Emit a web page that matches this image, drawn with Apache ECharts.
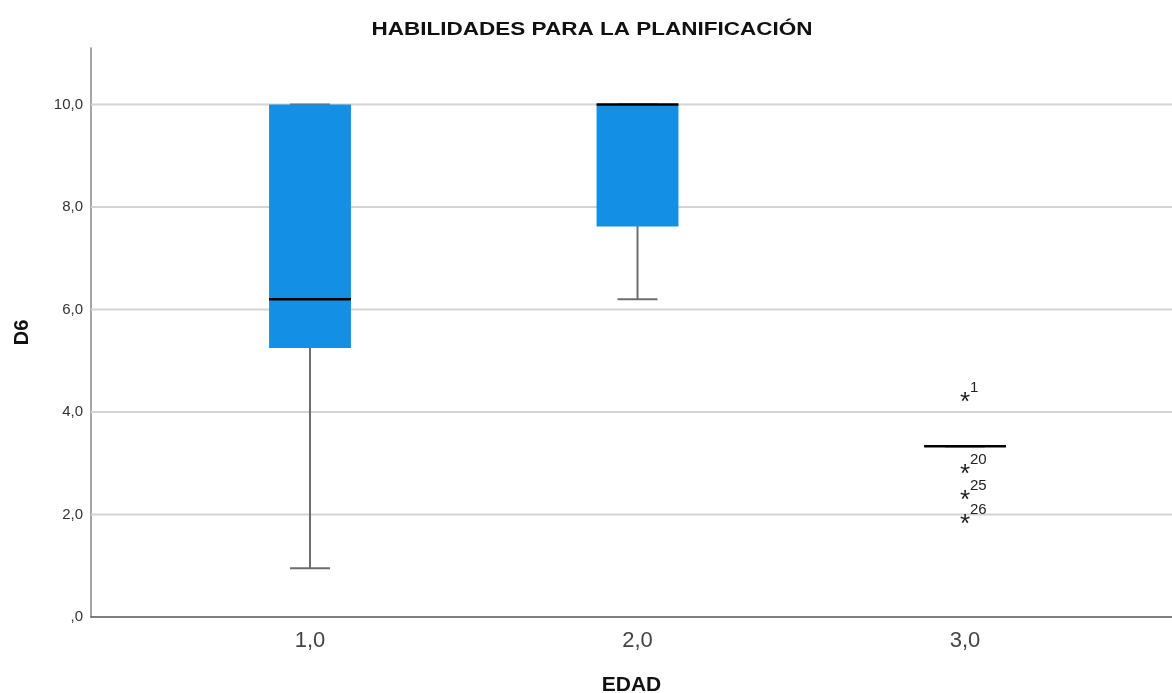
<!DOCTYPE html>
<html><head><meta charset="utf-8">
<script src="https://cdn.jsdelivr.net/npm/echarts@6/dist/echarts.min.js"></script>
<style>html,body{margin:0;padding:0;background:#fff;overflow:hidden}#c{width:1172px;height:693px}</style>
</head><body><div id="c"></div>
<script>
// Data
const groups = [1, 2, 3];
const mins = [0.95, 6.2, 3.33];
const q1s = [5.25, 7.62, 3.33];
const medians = [6.2, 10, 3.33];
const q3s = [10, 10, 3.33];
const maxs = [10, 10, 3.33];
const outlierX = [3, 3, 3, 3];
const outlierY = [4.28, 2.87, 2.36, 1.90];
const outlierLabels = ['1', '20', '25', '26'];
const yTicks = [0, 2, 4, 6, 8, 10];
const gridValues = [2, 4, 6, 8, 10];
const xTicks = [1, 2, 3];
const titleText = 'HABILIDADES PARA LA PLANIFICACIÓN';

const FONT = '"Liberation Sans", Arial, sans-serif';
const boxData = groups.map((g, i) => [g, mins[i], q1s[i], medians[i], q3s[i], maxs[i]]);
const outData = outlierX.map((x, i) => [x, outlierY[i]]);
const gridData = gridValues.map(v => [1, v]);

function renderGrid(params, api) {
  const cs = params.coordSys;
  const p = api.coord([1, api.value(1)]);
  return {type: 'line', shape: {x1: cs.x, y1: p[1], x2: cs.x + cs.width, y2: p[1]},
    style: {stroke: '#d4d4d4', lineWidth: 2}};
}

function renderBox(params, api) {
  const x = api.value(0);
  const pMin = api.coord([x, api.value(1)]);
  const pQ1 = api.coord([x, api.value(2)]);
  const pMed = api.coord([x, api.value(3)]);
  const pQ3 = api.coord([x, api.value(4)]);
  const pMax = api.coord([x, api.value(5)]);
  const bw = api.size([0.25, 0])[0];
  const cw = api.size([0.122, 0])[0];
  const cx = pMed[0];
  const wStyle = {stroke: '#6e6e6e', lineWidth: 2};
  return {type: 'group', children: [
    {type: 'line', shape: {x1: cx, y1: pMax[1], x2: cx, y2: pMin[1]}, style: wStyle},
    {type: 'line', shape: {x1: cx - cw / 2, y1: pMax[1], x2: cx + cw / 2, y2: pMax[1]}, style: wStyle},
    {type: 'line', shape: {x1: cx - cw / 2, y1: pMin[1], x2: cx + cw / 2, y2: pMin[1]}, style: wStyle},
    {type: 'rect', shape: {x: cx - bw / 2, y: pQ3[1], width: bw, height: pQ1[1] - pQ3[1]},
      style: {fill: '#1390E6'}},
    {type: 'line', shape: {x1: cx - bw / 2, y1: pMed[1], x2: cx + bw / 2, y2: pMed[1]},
      style: {stroke: '#000', lineWidth: 2.5}}
  ]};
}

function renderOut(params, api) {
  const p = api.coord([api.value(0), api.value(1)]);
  const lab = outlierLabels[params.dataIndex];
  return {type: 'group', children: [
    {type: 'text', x: p[0], y: p[1] + 5, style: {text: '*', font: '26px ' + FONT, fill: '#222',
      align: 'center', verticalAlign: 'middle'}},
    {type: 'text', x: p[0] + 5, y: p[1] - 10, style: {text: lab, font: '15px ' + FONT, fill: '#222',
      align: 'left', verticalAlign: 'middle'}}
  ]};
}

const chart = echarts.init(document.getElementById('c'));
chart.setOption({
  backgroundColor: '#fff',
  animation: false,
  graphic: [{type: 'text', x: 592, y: 30, scaleX: 1.25, silent: true,
    style: {text: titleText, font: 'bold 18px ' + FONT, fill: '#111', align: 'center', verticalAlign: 'middle'}}],
  grid: {left: 91, right: 0, top: 48, bottom: 76, containLabel: false, outerBoundsMode: 'none'},
  xAxis: {type: 'value', min: 0.3313, max: 3.632,
    name: 'EDAD', nameLocation: 'middle', nameGap: 58,
    nameTextStyle: {fontFamily: FONT, fontSize: 21, fontWeight: 'bold', color: '#111'},
    axisLine: {show: true, lineStyle: {color: '#555', width: 1.5}},
    axisTick: {show: false}, splitLine: {show: false},
    axisLabel: {customValues: xTicks, margin: 13, fontFamily: FONT, fontSize: 22, color: '#444',
      formatter: v => v.toFixed(1).replace('.', ',')}},
  yAxis: {type: 'value', min: 0, max: 11.1,
    name: 'D6', nameLocation: 'middle', nameGap: 59,
    nameTextStyle: {fontFamily: FONT, fontSize: 20, fontWeight: 'bold', color: '#111'},
    axisLine: {show: true, lineStyle: {color: '#888', width: 1.5}},
    axisTick: {show: false}, splitLine: {show: false},
    axisLabel: {customValues: yTicks, margin: 8, fontFamily: FONT, fontSize: 15, color: '#333',
      formatter: v => v === 0 ? ',0' : v.toFixed(1).replace('.', ',')}},
  series: [
    {type: 'custom', z: 1, silent: true, renderItem: renderGrid, data: gridData, clip: false},
    {type: 'custom', z: 2, renderItem: renderBox, data: boxData,
      encode: {x: 0, y: [1, 2, 3, 4, 5]}},
    {type: 'custom', z: 3, renderItem: renderOut, data: outData, encode: {x: 0, y: 1}}
  ]
});
</script></body></html>
